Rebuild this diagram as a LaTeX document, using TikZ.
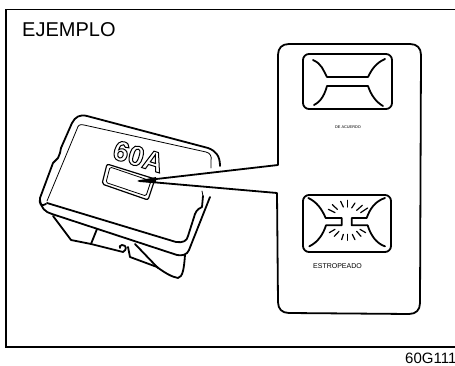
\documentclass[tikz,border=0pt]{standalone}
\usepackage{fontspec}
\setmainfont{Liberation Sans}
\tikzset{
  grueso/.style={line width=1.8pt,line cap=round,line join=round},
  medio/.style={line width=1.2pt,line cap=round,line join=round},
  fino/.style={line width=0.8pt,line cap=round,line join=round},
  rotulo/.style={inner sep=0pt,text=black}
}
\begin{document}
\begin{tikzpicture}[x=1pt,y=-1pt]
    \useasboundingbox (0,0) rectangle (455,366);

    % Marco
    \draw[line width=1.4pt] (455,9.5) -- (6,9.5) -- (6,347) -- (455,347);
    \node[rotulo,anchor=base west] (ejemplo) at (22,37) {\fontsize{20}{22}\selectfont EJEMPLO};
    \node[rotulo,anchor=base west] (codigo) at (405,363) {\fontsize{15}{16}\selectfont 60G111};

    % Panel y lineas hacia el fusible
    \draw[grueso] (139,181) -- (278,165) -- (278,55) .. controls (278,48) and (282,44) .. (289,44) -- (410,44)
        .. controls (417,44) and (421,48) .. (421,55) -- (420,303) .. controls (420,310) and (416,314) .. (409,314)
        -- (289,313) .. controls (282,313) and (278,309) .. (278,302) -- (277,193) -- (139,181);
    \fill (137,181) -- (156,177) -- (156,183) -- cycle;

    % Fusible correcto
    \draw[grueso,rounded corners=6] (303,54) rectangle (392,109);
    \draw[grueso] (313,60) .. controls (322,64) and (323,70) .. (327,77) -- (368,77)
        .. controls (372,69) and (376,63) .. (385,59);
    \draw[grueso] (314,105) .. controls (322,101) and (325,93) .. (327,86) -- (368,86)
        .. controls (371,95) and (376,102) .. (383,106);
    \node[rotulo] (acuerdo) at (348,127.5) {\fontsize{3.9}{5}\selectfont DE ACUERDO};

    % Fusible estropeado
    \draw[grueso,rounded corners=6] (303,195) rectangle (391,252);
    \begin{scope}[shift={(300,192)},x=0.3333pt,y=-0.3333pt]
        \draw[grueso] (25,18) .. controls (50,30) and (65,50) .. (77,78) -- (125,78) -- (125,100) -- (78,100)
            .. controls (70,125) and (55,150) .. (28,163);
        \draw[grueso] (255,18) .. controls (225,28) and (210,50) .. (200,78) -- (155,78) -- (155,100) -- (203,100)
            .. controls (212,130) and (230,155) .. (255,163);
        \foreach \xa/\ya/\xb/\yb in {85/52/105/62,97/38/112/52,122/28/130/45,142/25/142/45,165/33/155/48,
            187/40/170/55,203/48/182/62,88/122/105/112,103/133/117/118,125/143/130/127,142/145/142/127,
            165/143/157/127,183/133/170/118,197/122/180/112}
            \draw[medio] (\xa,\ya) -- (\xb,\yb);
    \end{scope}
    \node[rotulo] (estropeado) at (337.5,266) {\fontsize{7}{8}\selectfont ESTROPEADO};

    % Cuerpo del fusible: contorno superior
    \draw[grueso] (220,166) .. controls (220,156) and (216,151) .. (208,148) -- (87,116)
        .. controls (80,114) and (75,117) .. (72,123) -- (61,148) -- (60,153) -- (58,158) -- (53,163) -- (40,198)
        .. controls (39,204) and (41,207) .. (46,204);
    \draw[fino] (47,201) -- (77,129) .. controls (78,125) and (80,124) .. (84,125) -- (206,152)
        .. controls (210,153) and (212,156) .. (211,161) -- (211,168);

    % Tapa
    \draw[grueso] (47,203) -- (176,242) .. controls (183,243) and (187,241) .. (188,236) -- (195,214)
        .. controls (197,209) and (200,208) .. (202,207) -- (203,196);
    \draw[fino] (202,191) -- (203,196);
    \draw[grueso] (210,197) -- (189,250) .. controls (187,255) and (182,256) .. (177,255) -- (52,214)
        .. controls (45,212) and (41,208) .. (40,200);

    % Parte inferior
    \draw[grueso] (53,216) -- (71,240) -- (91,244) -- (97,229);
    \draw[grueso] (91,244) -- (123,252) .. controls (127,250) and (127,245) .. (122,245)
        .. controls (120,245) and (119,247) .. (120,248);
    \draw[grueso] (128,247) -- (130,257) -- (157,267) .. controls (165,273) and (172,277) .. (178,278)
        .. controls (183,277) and (184,268) .. (185,255);
    \draw[grueso] (135,244) -- (158,268);

    % Ventana
    \draw[medio,rounded corners=2] (107,164) -- (155,179) -- (148,200) -- (102,184) -- cycle;
    \draw[fino,rounded corners=1.5] (110,167) -- (151,181) -- (146,196) -- (106,182.5) -- cycle;

    % Rotulo del fusible
    \node[rotulo,rotate=-17] (amperaje) at (138.5,156.5) {\special{pdf:code 1 Tr 1 w}\fontsize{28}{30}\selectfont\bfseries 60A\special{pdf:code 0 Tr}};
\end{tikzpicture}
\end{document}
